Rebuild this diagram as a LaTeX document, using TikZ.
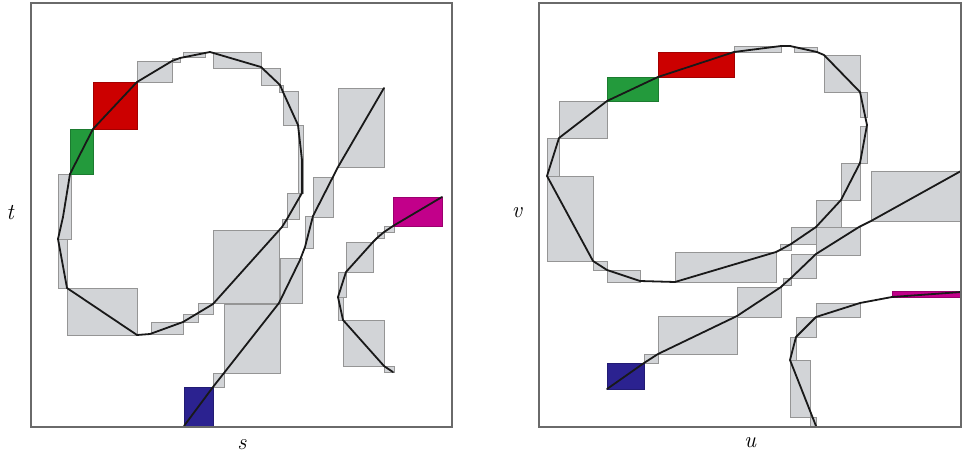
\documentclass[tikz,border=0pt]{standalone}
\usetikzlibrary{backgrounds}
\definecolor{cellgray}{HTML}{D2D4D7}
\definecolor{cellline}{HTML}{959595}
\definecolor{cred}{HTML}{CC0000}
\definecolor{cgreen}{HTML}{239A3C}
\definecolor{cblue}{HTML}{2B2290}
\definecolor{cmag}{HTML}{C2008A}
\definecolor{framecol}{HTML}{6A6A6A}
\tikzset{
  cell/.style={fill=cellgray, draw=cellline, line width=0.55pt},
  redcell/.style={fill=cred, draw=cred!80!black, line width=0.5pt},
  greencell/.style={fill=cgreen, draw=cgreen!80!black, line width=0.5pt},
  bluecell/.style={fill=cblue, draw=cblue!80!black, line width=0.5pt},
  magcell/.style={fill=cmag, draw=cmag!80!black, line width=0.5pt},
  curve/.style={draw=black!90, line width=1.35pt, line join=round, line cap=round},
  panel/.style={draw=framecol, line width=1pt},
  axlabel/.style={font=\fontsize{17}{20}\selectfont\itshape, inner sep=0pt}
}
\begin{document}
\begin{tikzpicture}[x=0.75pt,y=-0.75pt]
\useasboundingbox (0,0) rectangle (965,457);
% ---------------- left panel ----------------
% closed curve cells
\foreach \a/\b/\c/\d in {58/174/71/239, 58/239/67/288, 67/288/137/335, 151/322/183/334,
  183/314/198/322, 198/303/213/314, 213/230/279/303, 282/219/287/227, 287/193/299/219,
  298/125/303/193, 283/91/298/125, 279/85/283/92, 261/68/280/85, 213/52/261/68,
  183/52/205/57, 172/58/180/62, 137/61/172/82}
  \path[cell] (\a,\b) rectangle (\c,\d);
\path[redcell] (93,82) rectangle (137,129);
\path[greencell] (70,129) rectangle (93,174);
% long line cells
\foreach \a/\b/\c/\d in {213/373/224/387, 224/304/280/373, 280/258/302/303,
  305/216/313/248, 313/177/333/217, 338/88/384/167}
  \path[cell] (\a,\b) rectangle (\c,\d);
\path[bluecell] (184,387) rectangle (213,426);
% C curve cells
\foreach \a/\b/\c/\d in {384/226/394/232, 377/232/384/238, 346/242/373/272,
  338/272/346/297, 338/297/343/320, 343/320/384/366, 384/366/394/372}
  \path[cell] (\a,\b) rectangle (\c,\d);
\path[magcell] (393,197) rectangle (442,226);
% curves
\draw[curve] (70,174) -- (93,129) -- (137,82) -- (172,61) -- (180,58) -- (210,52)
  -- (261,67) -- (280,85) -- (283,92) -- (298,125) -- (302,160) -- (302,193)
  -- (287,219) -- (282,227) -- (213,304) -- (198,313) -- (183,322) -- (150,334)
  -- (137,335) -- (67,288) -- (58,239) -- (63,217) -- cycle;
\draw[curve] (184,426) -- (213,387) -- (224,373) -- (279,303) -- (300,260)
  -- (305,247) -- (313,216) -- (338,167) -- (384,88);
\draw[curve] (442,197) -- (393,226) -- (384,232) -- (377,238) -- (373,242)
  -- (346,272) -- (338,297) -- (343,320) -- (384,366) -- (393,372);
\draw[panel] (31,3) rectangle (452,427);
% ---------------- right panel ----------------
\foreach \a/\b/\c/\d in {559/101/607/138, 547/138/559/176, 547/176/593/261,
  593/261/607/270, 607/270/640/282, 675/252/776/282, 780/244/791/250,
  791/227/816/244, 816/200/841/227, 841/163/860/200, 860/126/867/163,
  860/92/867/117, 824/55/860/92, 794/47/817/52, 734/46/781/52}
  \path[cell] (\a,\b) rectangle (\c,\d);
\path[redcell] (658,52) rectangle (734,77);
\path[greencell] (607,77) rectangle (658,101);
\foreach \a/\b/\c/\d in {644/354/658/363, 658/316/737/354, 737/287/781/317,
  783/278/791/285, 791/254/816/278, 816/227/860/255, 871/171/961/221}
  \path[cell] (\a,\b) rectangle (\c,\d);
\path[bluecell] (607,363) rectangle (644,389);
\foreach \a/\b/\c/\d in {816/303/860/317, 796/317/816/337, 790/337/796/360,
  790/360/810/417, 810/417/816/426}
  \path[cell] (\a,\b) rectangle (\c,\d);
\path[magcell] (892,291) rectangle (961,297);
\draw[curve] (734,52) -- (658,77) -- (607,101) -- (559,138) -- (547,176)
  -- (593,261) -- (607,270) -- (640,281) -- (675,282) -- (776,252) -- (780,250)
  -- (791,244) -- (816,227) -- (841,200) -- (860,163) -- (867,125) -- (860,92)
  -- (824,55) -- (817,52) -- (790,46) -- (781,46) -- cycle;
\draw[curve] (607,389) -- (644,363) -- (658,354) -- (737,316) -- (781,287)
  -- (783,285) -- (791,278) -- (816,254) -- (859,227) -- (871,221) -- (961,171);
\draw[curve] (961,292) -- (892,297) -- (860,303) -- (816,317) -- (796,337)
  -- (790,360) -- (816,426);
\draw[panel] (539,3) rectangle (961,427);
% labels
\node[axlabel] (lt) at (10,213) {t};
\node[axlabel] (ls) at (242,445) {s};
\node[axlabel] (lv) at (517,213) {v};
\node[axlabel] (lu) at (750,443) {u};
\end{tikzpicture}
\end{document}
